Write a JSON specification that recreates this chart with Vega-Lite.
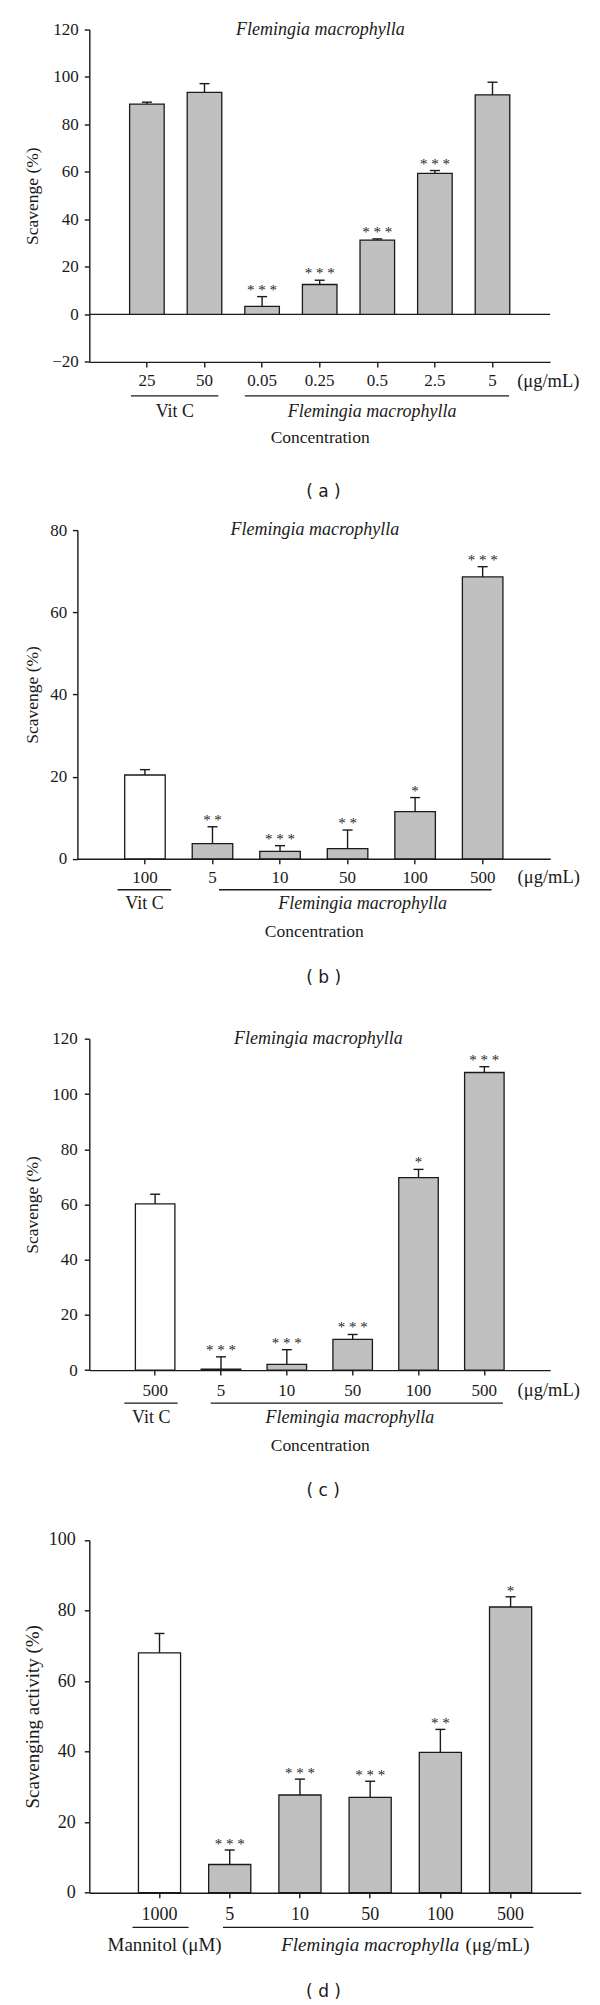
{
  "$schema": "https://vega.github.io/schema/vega-lite/v6.json",
  "padding": {"left": 22.3, "top": 20.5, "right": 5, "bottom": 5},
  "bounds": "flush",
  "spacing": 167.6,
  "config": {
    "view": {"stroke": null},
    "font": "Liberation Serif",
    "axis": {
      "domainColor": "#1a1a1a", "domainWidth": 1.4,
      "tickColor": "#1a1a1a", "tickWidth": 1.4, "tickSize": 5,
      "labelColor": "#1a1a1a", "titleColor": "#1a1a1a",
      "labelFont": "Liberation Serif", "titleFont": "Liberation Serif",
      "titleFontWeight": "normal", "grid": false,
      "labelFontSize": 17, "titleFontSize": 17.5
    },
    "text": {"font": "Liberation Serif", "color": "#1a1a1a", "fontSize": 18}
  },
  "vconcat": [
    {
      "width": 460.8, "height": 332.4,
      "data": {"values": [
        {"key": "VitC|25", "group": "VitC", "value": 88.6, "err": 89.4, "stars": ""},
        {"key": "VitC|50", "group": "VitC", "value": 93.5, "err": 97.2, "stars": ""},
        {"key": "FM|0.05", "group": "FM", "value": 3.4, "err": 7.5, "stars": "* * *"},
        {"key": "FM|0.25", "group": "FM", "value": 12.6, "err": 14.4, "stars": "* * *"},
        {"key": "FM|0.5", "group": "FM", "value": 31.3, "err": 31.8, "stars": "* * *"},
        {"key": "FM|2.5", "group": "FM", "value": 59.4, "err": 60.6, "stars": "* * *"},
        {"key": "FM|5", "group": "FM", "value": 92.5, "err": 97.8, "stars": ""}
      ]},
      "layer": [
        {
          "data": {"values": [{"ref": 0}]},
          "mark": {"type": "rule", "color": "#1a1a1a", "strokeWidth": 1.4},
          "encoding": {"y": {"field": "ref", "type": "quantitative"}}
        },
        {
          "mark": {"type": "bar", "fill": "#c0c0c0", "stroke": "#1a1a1a", "strokeWidth": 1.3, "opacity": 1},
          "encoding": {
            "x": {"field": "key", "type": "nominal",
              "scale": {"domain": ["VitC|25", "VitC|50", "FM|0.05", "FM|0.25", "FM|0.5", "FM|2.5", "FM|5"], "paddingInner": 0.4, "paddingOuter": 0.7},
              "axis": {"title": "Concentration", "labelExpr": "split(datum.value, '|')[1]", "labelAngle": 0, "labelPadding": 5.5, "titlePadding": 40}},
            "y": {"field": "value", "type": "quantitative",
              "scale": {"domain": [-20, 120], "nice": false, "zero": false},
              "axis": {"title": "Scavenge (%)", "values": [-20, 0, 20, 40, 60, 80, 100, 120], "labelPadding": 6, "titlePadding": 10.4}}
          }
        },
        {
          "mark": {"type": "rule", "color": "#1a1a1a", "strokeWidth": 1.4},
          "encoding": {"x": {"field": "key", "type": "nominal"}, "y": {"field": "value", "type": "quantitative"}, "y2": {"field": "err"}}
        },
        {
          "mark": {"type": "tick", "color": "#1a1a1a", "thickness": 1.4, "size": 10, "opacity": 1},
          "encoding": {"x": {"field": "key", "type": "nominal"}, "y": {"field": "err", "type": "quantitative"}}
        },
        {
          "mark": {"type": "text", "baseline": "alphabetic", "dy": -2, "fontSize": 15, "color": "#262626"},
          "encoding": {"x": {"field": "key", "type": "nominal"}, "y": {"field": "err", "type": "quantitative"}, "text": {"field": "stars"}}
        },
        {
          "data": {"values": [{"t": "Flemingia macrophylla", "at": "FM|0.25"}]},
          "mark": {"type": "text", "baseline": "middle", "fontStyle": "italic"},
          "encoding": {"x": {"field": "at", "type": "nominal", "bandPosition": 0.52}, "y": {"datum": 120}, "text": {"field": "t"}}
        },
        {
          "data": {"values": [{"from": "VitC|25", "to": "VitC|50"}]},
          "mark": {"type": "rule", "color": "#1a1a1a", "strokeWidth": 1.4},
          "encoding": {"x": {"field": "from", "type": "nominal", "bandPosition": 0.04}, "x2": {"field": "to", "bandPosition": 0.9}, "y": {"datum": -34.3}}
        },
        {
          "data": {"values": [{"from": "FM|0.05", "to": "FM|5"}]},
          "mark": {"type": "rule", "color": "#1a1a1a", "strokeWidth": 1.4},
          "encoding": {"x": {"field": "from", "type": "nominal", "bandPosition": 0.0}, "x2": {"field": "to", "bandPosition": 0.98}, "y": {"datum": -34.3}}
        },
        {
          "data": {"values": [{"t": "Vit C", "at": "VitC|25"}]},
          "mark": {"type": "text", "baseline": "middle"},
          "encoding": {"x": {"field": "at", "type": "nominal", "bandPosition": 1.31}, "y": {"datum": -40.9}, "text": {"field": "t"}}
        },
        {
          "data": {"values": [{"t": "Flemingia macrophylla", "at": "FM|0.5"}]},
          "mark": {"type": "text", "baseline": "middle", "fontStyle": "italic"},
          "encoding": {"x": {"field": "at", "type": "nominal", "bandPosition": 0.35}, "y": {"datum": -40.9}, "text": {"field": "t"}}
        },
        {
          "data": {"values": [{"t": "(μg/mL)", "at": "FM|5"}]},
          "mark": {"type": "text", "baseline": "middle", "fontSize": 18.5},
          "encoding": {"x": {"field": "at", "type": "nominal", "bandPosition": 2.115}, "y": {"datum": -28.1}, "text": {"field": "t"}}
        },
        {
          "data": {"values": [{"t": "( a )", "at": "FM|0.25"}]},
          "mark": {"type": "text", "baseline": "middle", "font": "DejaVu Sans", "fontSize": 17},
          "encoding": {"x": {"field": "at", "type": "nominal", "bandPosition": 0.61}, "y": {"datum": -74.9}, "text": {"field": "t"}}
        }
      ]
    },
    {
      "width": 460.9, "height": 328.7,
      "data": {"values": [
        {"key": "VitC|100", "group": "VitC", "value": 20.4, "err": 21.7, "stars": ""},
        {"key": "FM|5", "group": "FM", "value": 3.7, "err": 7.8, "stars": "* *"},
        {"key": "FM|10", "group": "FM", "value": 1.8, "err": 3.2, "stars": "* * *"},
        {"key": "FM|50", "group": "FM", "value": 2.5, "err": 7.0, "stars": "* *"},
        {"key": "FM|100", "group": "FM", "value": 11.5, "err": 14.9, "stars": "*"},
        {"key": "FM|500", "group": "FM", "value": 68.6, "err": 71.1, "stars": "* * *"}
      ]},
      "layer": [
        {
          "mark": {"type": "bar", "stroke": "#1a1a1a", "strokeWidth": 1.3, "opacity": 1},
          "encoding": {
            "x": {"field": "key", "type": "nominal",
              "scale": {"domain": ["VitC|100", "FM|5", "FM|10", "FM|50", "FM|100", "FM|500"], "paddingInner": 0.4, "paddingOuter": 0.7, "range": [-11.9, 460.9]},
              "axis": {"title": "Concentration", "labelExpr": "split(datum.value, '|')[1]", "labelAngle": 0, "labelPadding": 5.9, "titlePadding": 37.2}},
            "y": {"field": "value", "type": "quantitative",
              "scale": {"domain": [0, 80], "nice": false},
              "axis": {"title": "Scavenge (%)", "values": [0, 20, 40, 60, 80], "labelPadding": 5.7, "titlePadding": 8.4, "offset": 11.9}},
            "fill": {"condition": {"test": "datum.group !== 'FM'", "value": "#ffffff"}, "value": "#c0c0c0"}
          }
        },
        {
          "mark": {"type": "rule", "color": "#1a1a1a", "strokeWidth": 1.4},
          "encoding": {"x": {"field": "key", "type": "nominal"}, "y": {"field": "value", "type": "quantitative"}, "y2": {"field": "err"}}
        },
        {
          "mark": {"type": "tick", "color": "#1a1a1a", "thickness": 1.4, "size": 10, "opacity": 1},
          "encoding": {"x": {"field": "key", "type": "nominal"}, "y": {"field": "err", "type": "quantitative"}}
        },
        {
          "mark": {"type": "text", "baseline": "alphabetic", "dy": -2, "fontSize": 15, "color": "#262626"},
          "encoding": {"x": {"field": "key", "type": "nominal"}, "y": {"field": "err", "type": "quantitative"}, "text": {"field": "stars"}}
        },
        {
          "data": {"values": [{"t": "Flemingia macrophylla", "at": "FM|10"}]},
          "mark": {"type": "text", "baseline": "middle", "fontStyle": "italic"},
          "encoding": {"x": {"field": "at", "type": "nominal", "bandPosition": 1.36}, "y": {"datum": 80}, "text": {"field": "t"}}
        },
        {
          "data": {"values": [{"from": "VitC|100", "to": "VitC|100"}]},
          "mark": {"type": "rule", "color": "#1a1a1a", "strokeWidth": 1.4},
          "encoding": {"x": {"field": "from", "type": "nominal", "bandPosition": -0.175}, "x2": {"field": "to", "bandPosition": 1.148}, "y": {"datum": -7.54}}
        },
        {
          "data": {"values": [{"from": "FM|5", "to": "FM|500"}]},
          "mark": {"type": "rule", "color": "#1a1a1a", "strokeWidth": 1.4},
          "encoding": {"x": {"field": "from", "type": "nominal", "bandPosition": 0.66}, "x2": {"field": "to", "bandPosition": 0.72}, "y": {"datum": -7.54}}
        },
        {
          "data": {"values": [{"t": "Vit C", "at": "VitC|100"}]},
          "mark": {"type": "text", "baseline": "middle"},
          "encoding": {"x": {"field": "at", "type": "nominal", "bandPosition": 0.49}, "y": {"datum": -10.95}, "text": {"field": "t"}}
        },
        {
          "data": {"values": [{"t": "Flemingia macrophylla", "at": "FM|50"}]},
          "mark": {"type": "text", "baseline": "middle", "fontStyle": "italic"},
          "encoding": {"x": {"field": "at", "type": "nominal", "bandPosition": 0.87}, "y": {"datum": -10.95}, "text": {"field": "t"}}
        },
        {
          "data": {"values": [{"t": "(μg/mL)", "at": "FM|500"}]},
          "mark": {"type": "text", "baseline": "middle", "fontSize": 18.5},
          "encoding": {"x": {"field": "at", "type": "nominal", "bandPosition": 2.13}, "y": {"datum": -4.55}, "text": {"field": "t"}}
        },
        {
          "data": {"values": [{"t": "( b )", "at": "FM|10"}]},
          "mark": {"type": "text", "baseline": "middle", "font": "DejaVu Sans", "fontSize": 17},
          "encoding": {"x": {"field": "at", "type": "nominal", "bandPosition": 1.575}, "y": {"datum": -28.9}, "text": {"field": "t"}}
        }
      ]
    },
    {
      "width": 460.9, "height": 343.4,
      "data": {"values": [
        {"key": "VitC|500", "group": "VitC", "value": 60.2, "err": 63.7, "stars": ""},
        {"key": "FM|5", "group": "FM", "value": 0.3, "err": 4.8, "stars": "* * *"},
        {"key": "FM|10", "group": "FM", "value": 2.1, "err": 7.4, "stars": "* * *"},
        {"key": "FM|50", "group": "FM", "value": 11.1, "err": 12.9, "stars": "* * *"},
        {"key": "FM|100", "group": "FM", "value": 69.7, "err": 72.7, "stars": "*"},
        {"key": "FM|500", "group": "FM", "value": 107.8, "err": 109.9, "stars": "* * *"}
      ]},
      "layer": [
        {
          "mark": {"type": "bar", "stroke": "#1a1a1a", "strokeWidth": 1.3, "opacity": 1},
          "encoding": {
            "x": {"field": "key", "type": "nominal",
              "scale": {"domain": ["VitC|500", "FM|5", "FM|10", "FM|50", "FM|100", "FM|500"], "paddingInner": 0.4, "paddingOuter": 0.7},
              "axis": {"title": "Concentration", "labelExpr": "split(datum.value, '|')[1]", "labelAngle": 0, "labelPadding": 7, "titlePadding": 38.8}},
            "y": {"field": "value", "type": "quantitative",
              "scale": {"domain": [0, 120], "nice": false, "range": [343.4, 12.1]},
              "axis": {"title": "Scavenge (%)", "values": [0, 20, 40, 60, 80, 100, 120], "labelPadding": 7, "titlePadding": 10.5}},
            "fill": {"condition": {"test": "datum.group !== 'FM'", "value": "#ffffff"}, "value": "#c0c0c0"}
          }
        },
        {
          "mark": {"type": "rule", "color": "#1a1a1a", "strokeWidth": 1.4},
          "encoding": {"x": {"field": "key", "type": "nominal"}, "y": {"field": "value", "type": "quantitative"}, "y2": {"field": "err"}}
        },
        {
          "mark": {"type": "tick", "color": "#1a1a1a", "thickness": 1.4, "size": 10, "opacity": 1},
          "encoding": {"x": {"field": "key", "type": "nominal"}, "y": {"field": "err", "type": "quantitative"}}
        },
        {
          "mark": {"type": "text", "baseline": "alphabetic", "dy": -2, "fontSize": 15, "color": "#262626"},
          "encoding": {"x": {"field": "key", "type": "nominal"}, "y": {"field": "err", "type": "quantitative"}, "text": {"field": "stars"}}
        },
        {
          "data": {"values": [{"t": "Flemingia macrophylla", "at": "FM|10"}]},
          "mark": {"type": "text", "baseline": "middle", "fontStyle": "italic"},
          "encoding": {"x": {"field": "at", "type": "nominal", "bandPosition": 1.3}, "y": {"datum": 120}, "text": {"field": "t"}}
        },
        {
          "data": {"values": [{"from": "VitC|500", "to": "VitC|500"}]},
          "mark": {"type": "rule", "color": "#1a1a1a", "strokeWidth": 1.4},
          "encoding": {"x": {"field": "from", "type": "nominal", "bandPosition": -0.28}, "x2": {"field": "to", "bandPosition": 1.07}, "y": {"datum": -11.95}}
        },
        {
          "data": {"values": [{"from": "FM|5", "to": "FM|500"}]},
          "mark": {"type": "rule", "color": "#1a1a1a", "strokeWidth": 1.4},
          "encoding": {"x": {"field": "from", "type": "nominal", "bandPosition": 0.24}, "x2": {"field": "to", "bandPosition": 0.97}, "y": {"datum": -11.95}}
        },
        {
          "data": {"values": [{"t": "Vit C", "at": "VitC|500"}]},
          "mark": {"type": "text", "baseline": "middle"},
          "encoding": {"x": {"field": "at", "type": "nominal", "bandPosition": 0.4}, "y": {"datum": -17.5}, "text": {"field": "t"}}
        },
        {
          "data": {"values": [{"t": "Flemingia macrophylla", "at": "FM|50"}]},
          "mark": {"type": "text", "baseline": "middle", "fontStyle": "italic"},
          "encoding": {"x": {"field": "at", "type": "nominal", "bandPosition": 0.43}, "y": {"datum": -17.5}, "text": {"field": "t"}}
        },
        {
          "data": {"values": [{"t": "(μg/mL)", "at": "FM|500"}]},
          "mark": {"type": "text", "baseline": "middle", "fontSize": 18.5},
          "encoding": {"x": {"field": "at", "type": "nominal", "bandPosition": 2.13}, "y": {"datum": -7.24}, "text": {"field": "t"}}
        },
        {
          "data": {"values": [{"t": "( c )", "at": "FM|10"}]},
          "mark": {"type": "text", "baseline": "middle", "font": "DejaVu Sans", "fontSize": 17},
          "encoding": {"x": {"field": "at", "type": "nominal", "bandPosition": 1.42}, "y": {"datum": -43.8}, "text": {"field": "t"}}
        }
      ]
    },
    {
      "width": 491.5, "height": 354.4,
      "data": {"values": [
        {"key": "Mannitol|1000", "group": "Mannitol", "value": 68.0, "err": 73.5, "stars": ""},
        {"key": "FM|5", "group": "FM", "value": 8.0, "err": 12.1, "stars": "* * *"},
        {"key": "FM|10", "group": "FM", "value": 27.7, "err": 32.2, "stars": "* * *"},
        {"key": "FM|50", "group": "FM", "value": 27.0, "err": 31.6, "stars": "* * *"},
        {"key": "FM|100", "group": "FM", "value": 39.8, "err": 46.3, "stars": "* *"},
        {"key": "FM|500", "group": "FM", "value": 81.0, "err": 83.9, "stars": "*"}
      ]},
      "layer": [
        {
          "mark": {"type": "bar", "stroke": "#1a1a1a", "strokeWidth": 1.3, "opacity": 1},
          "encoding": {
            "x": {"field": "key", "type": "nominal",
              "scale": {"domain": ["Mannitol|1000", "FM|5", "FM|10", "FM|50", "FM|100", "FM|500"], "paddingInner": 0.4, "paddingOuter": 0.7},
              "axis": {"title": null, "labelExpr": "split(datum.value, '|')[1]", "labelAngle": 0, "labelPadding": 8, "labelFontSize": 18}},
            "y": {"field": "value", "type": "quantitative",
              "scale": {"domain": [0, 100], "nice": false, "range": [354.4, 1.7]},
              "axis": {"title": "Scavenging activity (%)", "values": [0, 20, 40, 60, 80, 100], "labelPadding": 9, "titlePadding": 6.2, "labelFontSize": 18, "titleFontSize": 19}},
            "fill": {"condition": {"test": "datum.group !== 'FM'", "value": "#ffffff"}, "value": "#c0c0c0"}
          }
        },
        {
          "mark": {"type": "rule", "color": "#1a1a1a", "strokeWidth": 1.4},
          "encoding": {"x": {"field": "key", "type": "nominal"}, "y": {"field": "value", "type": "quantitative"}, "y2": {"field": "err"}}
        },
        {
          "mark": {"type": "tick", "color": "#1a1a1a", "thickness": 1.4, "size": 10, "opacity": 1},
          "encoding": {"x": {"field": "key", "type": "nominal"}, "y": {"field": "err", "type": "quantitative"}}
        },
        {
          "mark": {"type": "text", "baseline": "alphabetic", "dy": -1, "fontSize": 15, "color": "#262626"},
          "encoding": {"x": {"field": "key", "type": "nominal"}, "y": {"field": "err", "type": "quantitative"}, "text": {"field": "stars"}}
        },
        {
          "data": {"values": [{"from": "Mannitol|1000", "to": "Mannitol|1000"}]},
          "mark": {"type": "rule", "color": "#1a1a1a", "strokeWidth": 1.4},
          "encoding": {"x": {"field": "from", "type": "nominal", "bandPosition": -0.14}, "x2": {"field": "to", "bandPosition": 1.19}, "y": {"datum": -9.84}}
        },
        {
          "data": {"values": [{"from": "FM|5", "to": "FM|500"}]},
          "mark": {"type": "rule", "color": "#1a1a1a", "strokeWidth": 1.4},
          "encoding": {"x": {"field": "from", "type": "nominal", "bandPosition": 0.34}, "x2": {"field": "to", "bandPosition": 1.04}, "y": {"datum": -9.84}}
        },
        {
          "data": {"values": [{"t": "Mannitol (μM)", "at": "Mannitol|1000"}]},
          "mark": {"type": "text", "baseline": "middle", "fontSize": 19},
          "encoding": {"x": {"field": "at", "type": "nominal", "bandPosition": 0.62}, "y": {"datum": -14.74}, "text": {"field": "t"}}
        },
        {
          "data": {"values": [{"t": "Flemingia macrophylla", "at": "FM|50"}]},
          "mark": {"type": "text", "baseline": "middle", "fontStyle": "italic", "fontSize": 19},
          "encoding": {"x": {"field": "at", "type": "nominal", "bandPosition": 0.5}, "y": {"datum": -14.74}, "text": {"field": "t"}}
        },
        {
          "data": {"values": [{"t": "(μg/mL)", "at": "FM|500"}]},
          "mark": {"type": "text", "baseline": "middle", "fontSize": 19},
          "encoding": {"x": {"field": "at", "type": "nominal", "bandPosition": 0.19}, "y": {"datum": -14.74}, "text": {"field": "t"}}
        },
        {
          "data": {"values": [{"t": "( d )", "at": "FM|10"}]},
          "mark": {"type": "text", "baseline": "middle", "font": "DejaVu Sans", "fontSize": 17},
          "encoding": {"x": {"field": "at", "type": "nominal", "bandPosition": 1.06}, "y": {"datum": -28.07}, "text": {"field": "t"}}
        }
      ]
    }
  ]
}
